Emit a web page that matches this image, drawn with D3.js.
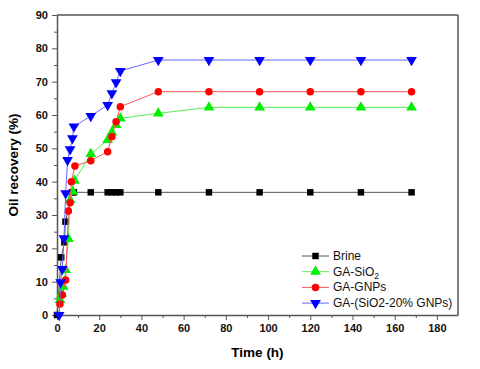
<!DOCTYPE html>
<html>
<head>
<meta charset="utf-8">
<script src="https://cdn.jsdelivr.net/npm/d3@7"></script>
<style>
  body { margin: 0; background: white; }
  svg { font-family: "Liberation Sans", Arial, sans-serif; }
  .tick text { font-weight: bold; font-size: 11px; fill: #111; }
  .axis path, .axis line { stroke: #555; }
</style>
</head>
<body>
<div id="chart"></div>
<script>
// values
var brineT = [0, 2, 3.5, 4, 7, 8, 16, 24, 26, 28, 30, 48, 72, 96, 120, 144, 168];
var brineV = [0, 17.3, 21.8, 28, 36.8, 36.8, 36.8, 36.8, 36.8, 36.8, 36.8, 36.8, 36.8, 36.8, 36.8, 36.8, 36.8];

var sio2T = [1.4, 2.2, 3, 4.1, 5.4, 6.2, 7.5, 8.3, 16, 24, 26, 28, 30, 48, 72, 96, 120, 144, 168];
var sio2V = [4.5, 6.5, 8.5, 13.5, 22.8, 34.5, 37, 40.3, 48.3, 52.5, 54.8, 57, 59, 60.5, 62.3, 62.3, 62.3, 62.3, 62.3];

var gnpT = [1.4, 2.5, 4.1, 5.4, 6.2, 6.8, 8.5, 16, 24, 26, 28, 30, 48, 72, 96, 120, 144, 168];
var gnpV = [3.3, 6, 10.5, 31.2, 33.7, 40, 44.7, 46.3, 49, 53.5, 58, 62.5, 67, 67, 67, 67, 67, 67];

var mixT = [1, 1.7, 2.5, 3.3, 4.1, 5, 6.2, 7.3, 8, 16, 24, 26, 28, 30, 48, 72, 96, 120, 144, 168];
var mixV = [0, 9.8, 13.8, 23, 36.5, 46.5, 49.7, 53, 56.5, 59.7, 63, 66.5, 69.8, 73.2, 76.5, 76.5, 76.5, 76.5, 76.5, 76.5];

var xTicks = [0, 20, 40, 60, 80, 100, 120, 140, 160, 180];
var yTicks = [0, 10, 20, 30, 40, 50, 60, 70, 80, 90];

var series = [
  { name: "Brine", t: brineT, v: brineV, line: "#555555", fill: "#000000", shape: "square" },
  { name: "GA-SiO2", t: sio2T, v: sio2V, line: "#55ee55", fill: "#00ee00", shape: "up" },
  { name: "GA-GNPs", t: gnpT, v: gnpV, line: "#ff5555", fill: "#ff0000", shape: "circle" },
  { name: "GA-(SiO2-20% GNPs)", t: mixT, v: mixV, line: "#6666ff", fill: "#0000ff", shape: "down" }
];

var margin = { top: 15, right: 22, bottom: 54, left: 57 };
var width = 480 - margin.left - margin.right,
    height = 369 - margin.top - margin.bottom;

var svg = d3.select("#chart").append("svg")
  .attr("width", 480)
  .attr("height", 369)
  .append("g")
  .attr("transform", "translate(" + margin.left + "," + margin.top + ")");

var x = d3.scaleLinear().domain([0, 190]).range([0, width]);
var y = d3.scaleLinear().domain([0, 90]).range([height, 0]);

// minor ticks
svg.append("g").attr("class", "axis")
  .attr("transform", "translate(0," + height + ")")
  .call(d3.axisBottom(x).tickValues(d3.range(10, 190, 20)).tickSize(3).tickFormat(""))
  .call(g => g.select(".domain").remove());
svg.append("g").attr("class", "axis")
  .call(d3.axisLeft(y).tickValues(d3.range(5, 90, 10)).tickSize(3).tickFormat(""))
  .call(g => g.select(".domain").remove());

var xAxis = svg.append("g").attr("class", "axis")
  .attr("transform", "translate(0," + height + ")")
  .call(d3.axisBottom(x).tickValues(xTicks).tickSize(5).tickPadding(4).tickSizeOuter(0));
var yAxis = svg.append("g").attr("class", "axis")
  .call(d3.axisLeft(y).tickValues(yTicks).tickSize(5).tickPadding(4).tickSizeOuter(0));
xAxis.select(".domain").attr("stroke-width", 1.5);
yAxis.select(".domain").attr("stroke-width", 1.5);

// frame top & right
svg.append("line").attr("x1", 0).attr("x2", width).attr("y1", 0).attr("y2", 0)
  .attr("stroke", "#555").attr("stroke-width", 1.5);
svg.append("line").attr("x1", width).attr("x2", width).attr("y1", 0).attr("y2", height)
  .attr("stroke", "#555").attr("stroke-width", 1.5);

svg.append("text")
  .attr("x", width / 2).attr("y", height + 42)
  .attr("text-anchor", "middle")
  .style("font-weight", "bold").style("font-size", "13.5px")
  .text("Time (h)");

svg.append("text")
  .attr("transform", "translate(-39," + (height / 2) + ")rotate(-90)")
  .attr("text-anchor", "middle")
  .style("font-weight", "bold").style("font-size", "13.5px")
  .text("Oil recovery (%)");

function symbolFor(shape) {
  if (shape == "square") return d3.symbol().type(d3.symbolSquare).size(42);
  if (shape == "circle") return d3.symbol().type(d3.symbolCircle).size(44);
  return d3.symbol().type(d3.symbolTriangle).size(50);
}

series.forEach(function (s) {
  var pts = s.t.map(function (t, i) { return { t: t, v: s.v[i] }; });
  svg.append("path")
    .datum(pts)
    .attr("fill", "none")
    .attr("stroke", s.line)
    .attr("stroke-width", 1)
    .attr("d", d3.line().x(d => x(d.t)).y(d => y(d.v)));
  svg.append("g").selectAll("path")
    .data(pts)
    .enter().append("path")
    .attr("d", symbolFor(s.shape))
    .attr("fill", s.fill)
    .attr("transform", d => "translate(" + x(d.t) + "," + y(d.v) + ")" + (s.shape == "down" ? "rotate(180)" : ""));
});

// legend
var legend = svg.append("g").attr("transform", "translate(" + (302 - margin.left) + "," + (256 - margin.top) + ")");
series.forEach(function (s, i) {
  var g = legend.append("g").attr("transform", "translate(0," + (i * 15.7) + ")");
  g.append("line").attr("x1", 0).attr("x2", 27).attr("y1", 0).attr("y2", 0)
    .attr("stroke", s.line).attr("stroke-width", 1);
  g.append("path").attr("d", symbolFor(s.shape)).attr("fill", s.fill)
    .attr("transform", "translate(13.5,0)" + (s.shape == "down" ? "rotate(180)" : ""));
  var txt = g.append("text").attr("x", 31).attr("y", 4).style("font-size", "12px").attr("fill", "#111");
  if (s.name == "GA-SiO2") {
    txt.append("tspan").text("GA-SiO");
    txt.append("tspan").attr("dy", 3).style("font-size", "8.5px").text("2");
  } else {
    txt.text(s.name);
  }
});
</script>
</body>
</html>
